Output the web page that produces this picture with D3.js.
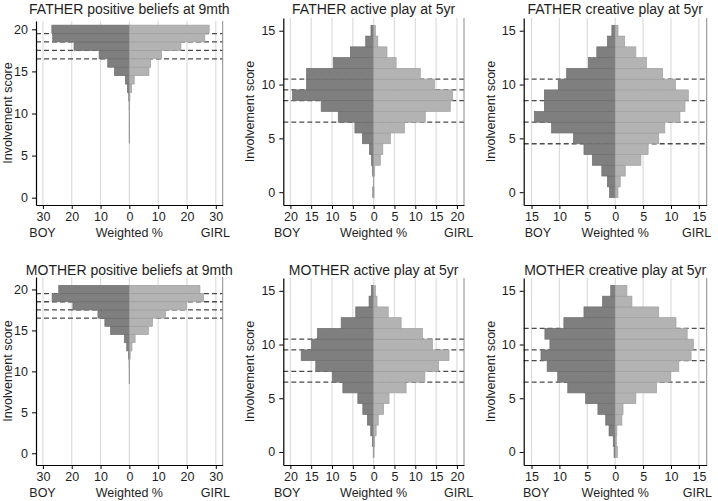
<!DOCTYPE html>
<html><head><meta charset="utf-8">
<script src="https://cdn.jsdelivr.net/npm/d3@7"></script>
<style>
body{margin:0;background:#fff}
text{font-family:"Liberation Sans",Arial,sans-serif;fill:#1e1e1e}
</style>
</head><body>
<svg id="c" width="718" height="501"></svg>
<script>
// ---------- DATA ----------
const panelTitles = [
  "FATHER positive beliefs at 9mth",
  "FATHER active play at 5yr",
  "FATHER creative play at 5yr",
  "MOTHER positive beliefs at 9mth",
  "MOTHER active play at 5yr",
  "MOTHER creative play at 5yr"
];
const beliefScores = d3.range(0, 21);   // 0..20
const playScores = d3.range(0, 16);     // 0..15

// weighted % by score (index = score)
const fatherBeliefsBoy  = [0,0,0,0,0,0,0,0.05,0.05,0.05,0.05,0.08,0.2,0.7,1.4,5.2,7.5,10.5,19.2,26.6,26.9];
const fatherBeliefsGirl = [0,0,0,0,0,0,0,0.05,0.05,0.05,0.05,0.08,0.2,0.8,1.7,6.8,7.4,11.2,17.9,26.2,27.7];
const fatherActiveBoy   = [0.2,0.05,0.25,0.5,1.0,2.7,4.5,8.5,12.6,19.5,16.1,16.1,9.7,5.6,1.9,0.64];
const fatherActiveGirl  = [0.1,0.05,0.25,1.6,2.2,4.0,7.4,12.4,18.4,19.0,14.6,11.2,5.4,3.2,1.0,0.4];
const fatherCreativeBoy = [1.0,1.4,2.4,4.1,5.6,7.5,11.4,14.5,12.7,12.7,10.2,8.7,4.8,3.3,1.4,0.6];
const fatherCreativeGirl= [0.5,0.9,1.8,4.6,5.9,7.8,8.9,11.6,12.5,13.1,10.8,8.5,5.6,3.7,1.7,0.5];
const motherBeliefsBoy  = [0,0,0,0,0,0,0,0,0,0.05,0.05,0.08,0.25,0.9,1.75,6.5,8.5,10.9,19.6,26.8,24.5];
const motherBeliefsGirl = [0,0,0,0,0,0,0,0,0,0.05,0.05,0.08,0.3,0.9,2.0,6.6,8.0,12.5,19.8,25.7,24.5];
const motherActiveBoy   = [0.1,0.3,0.7,1.5,2.6,3.8,7.4,9.9,13.9,17.4,14.9,13.5,7.8,4.3,1.1,0.56];
const motherActiveGirl  = [0.1,0.25,0.6,1.1,2.4,3.7,7.8,12.3,15.6,18.1,14.1,11.7,6.6,3.5,0.8,0.4];
const motherCreativeBoy = [0.2,0.35,1.1,1.7,3.1,5.3,8.5,10.3,12.2,13.3,11.7,12.6,9.2,5.6,2.25,0.8];
const motherCreativeGirl= [0.4,0.2,0.3,1.2,1.4,3.7,7.4,9.9,11.4,13.6,14.0,12.9,10.9,7.8,3.0,2.1];

// dashed cut-off lines (score values)
const fatherBeliefsCuts  = [19.5,18.5,17.5,16.5];
const fatherActiveCuts   = [10.5,9.5,8.5,6.5];
const fatherCreativeCuts = [10.5,8.5,6.5,4.5];
const motherBeliefsCuts  = [19.5,18.5,17.5,16.5];
const motherActiveCuts   = [10.5,9.5,7.5,6.5];
const motherCreativeCuts = [11.5,9.5,8.5,6.5];

// tick values
const xTicks30 = [-30,-20,-10,0,10,20,30];
const xTicks20 = [-20,-15,-10,-5,0,5,10,15,20];
const xTicks15 = [-15,-10,-5,0,5,10,15];
const yTicks20 = [0,5,10,15,20];
const yTicks15 = [0,5,10,15];

const yTitle = "Involvement score";
const xTitle = "Weighted %";
const leftLabel = "BOY", rightLabel = "GIRL";

// ---------- LAYOUT ----------
const panels = [
  {title:panelTitles[0], scores:beliefScores, boy:fatherBeliefsBoy, girl:fatherBeliefsGirl, cuts:fatherBeliefsCuts,
   xt:xTicks30, yt:yTicks20, xd:[-32.4,32.4], xr:[36,222.7], yd:[-0.87,20.99], yr:[205,21],
   titleY:13.5, yTitleX:12, boyX:29.3, girlX:230},
  {title:panelTitles[1], scores:playScores, boy:fatherActiveBoy, girl:fatherActiveGirl, cuts:fatherActiveCuts,
   xt:xTicks20, yt:yTicks15, xd:[-21.7,21.7], xr:[283.3,464], yd:[-1.19,16.18], yr:[205,18],
   titleY:13.5, yTitleX:253.5, boyX:274, girlX:473.3},
  {title:panelTitles[2], scores:playScores, boy:fatherCreativeBoy, girl:fatherCreativeGirl, cuts:fatherCreativeCuts,
   xt:xTicks15, yt:yTicks15, xd:[-16.4,16.4], xr:[523.7,706.7], yd:[-1.19,16.18], yr:[205,18],
   titleY:13.5, yTitleX:495, boyX:524.7, girlX:711.3},
  {title:panelTitles[3], scores:beliefScores, boy:motherBeliefsBoy, girl:motherBeliefsGirl, cuts:motherBeliefsCuts,
   xt:xTicks30, yt:yTicks20, xd:[-32.4,32.4], xr:[36,222.7], yd:[-1.43,21.52], yr:[465,277],
   titleY:275, yTitleX:12, boyX:29.3, girlX:230},
  {title:panelTitles[4], scores:playScores, boy:motherActiveBoy, girl:motherActiveGirl, cuts:motherActiveCuts,
   xt:xTicks20, yt:yTicks15, xd:[-21.7,21.7], xr:[283.3,464], yd:[-1.21,16.19], yr:[465,278],
   titleY:275, yTitleX:253.5, boyX:274, girlX:473.3},
  {title:panelTitles[5], scores:playScores, boy:motherCreativeBoy, girl:motherCreativeGirl, cuts:motherCreativeCuts,
   xt:xTicks15, yt:yTicks15, xd:[-16.4,16.4], xr:[523.7,706.7], yd:[-1.21,16.19], yr:[465,278],
   titleY:275, yTitleX:495, boyX:523, girlX:712}
];

const svg = d3.select("#c");
svg.append("rect").attr("width",718).attr("height",501).attr("fill","#fff");

panels.forEach(p => {
  const x = d3.scaleLinear().domain(p.xd).range(p.xr);
  const y = d3.scaleLinear().domain(p.yd).range(p.yr);
  const g = svg.append("g");

  // vertical gridlines
  g.selectAll("line.grid").data(p.xt).join("line")
    .attr("x1",d=>x(d)).attr("x2",d=>x(d))
    .attr("y1",p.yr[0]).attr("y2",p.yr[1])
    .attr("stroke","#dcdcdc").attr("stroke-width",1.2);

  // dashed cut-offs (beneath bars)
  g.selectAll("line.cut").data(p.cuts).join("line")
    .attr("x1",p.xr[0]).attr("x2",p.xr[1])
    .attr("y1",d=>y(d)).attr("y2",d=>y(d))
    .attr("stroke","#4a4a4a").attr("stroke-width",1.3)
    .attr("stroke-dasharray","5,3");

  const rows = p.scores.map((s,i)=>({s, boy:p.boy[i], girl:p.girl[i]}));

  g.selectAll("rect.boy").data(rows.filter(d=>d.boy>0)).join("rect")
    .attr("x",d=>x(-d.boy)).attr("width",d=>x(0)-x(-d.boy))
    .attr("y",d=>y(d.s+0.5)).attr("height",d=>y(d.s-0.5)-y(d.s+0.5))
    .attr("fill","#7f7f7f").attr("stroke","#6e6e6e").attr("stroke-width",0.7);

  g.selectAll("rect.girl").data(rows.filter(d=>d.girl>0)).join("rect")
    .attr("x",x(0)).attr("width",d=>x(d.girl)-x(0))
    .attr("y",d=>y(d.s+0.5)).attr("height",d=>y(d.s-0.5)-y(d.s+0.5))
    .attr("fill","#b3b3b3").attr("stroke","#a0a0a0").attr("stroke-width",0.7);

  // right border
  g.append("line").attr("x1",p.xr[1]).attr("x2",p.xr[1]).attr("y1",p.yr[0]).attr("y2",p.yr[1])
    .attr("stroke","#8a8a8a").attr("stroke-width",1);

  // axes
  const ax = g.append("g").attr("transform",`translate(0,${p.yr[0]})`)
    .call(d3.axisBottom(x).tickValues(p.xt).tickFormat(d=>Math.abs(d)).tickSize(4).tickSizeOuter(0).tickPadding(3));
  const ay = g.append("g").attr("transform",`translate(${p.xr[0]},0)`)
    .call(d3.axisLeft(y).tickValues(p.yt).tickSize(4).tickSizeOuter(0).tickPadding(4));
  [ax,ay].forEach(a=>{
    a.selectAll("text").attr("font-size",12.5).attr("fill","#1e1e1e").attr("font-family",'"Liberation Sans",Arial,sans-serif');
    a.select(".domain").attr("stroke","#000").attr("stroke-width",1.2);
    a.selectAll(".tick line").attr("stroke","#000");
  });

  // titles
  g.append("text").attr("x",x(0)).attr("y",p.titleY).attr("text-anchor","middle")
    .attr("font-size",14).text(p.title);
  g.append("text").attr("transform",`translate(${p.yTitleX},${(p.yr[0]+p.yr[1])/2}) rotate(-90)`)
    .attr("text-anchor","middle").attr("font-size",12.5).text(yTitle);
  const by = p.yr[0] + 31.5;
  g.append("text").attr("x",x(0)).attr("y",by).attr("text-anchor","middle").attr("font-size",12.5).text(xTitle);
  g.append("text").attr("x",p.boyX).attr("y",by).attr("text-anchor","start").attr("font-size",12.5).text(leftLabel);
  g.append("text").attr("x",p.girlX).attr("y",by).attr("text-anchor","end").attr("font-size",12.5).text(rightLabel);
});
</script>
</body></html>
